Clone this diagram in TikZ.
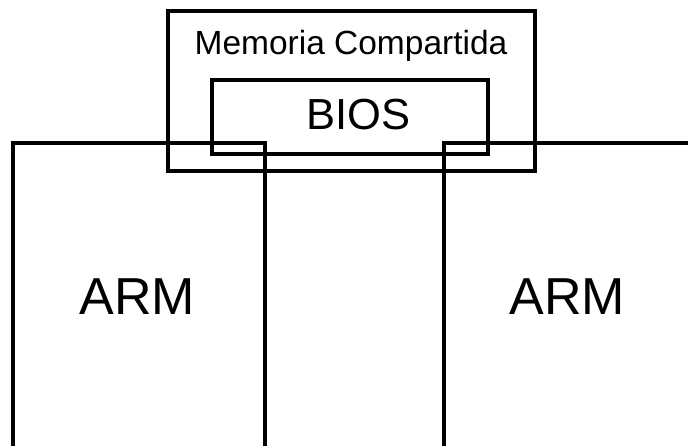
\documentclass[tikz,border=0pt]{standalone}
\usepackage{fontspec}
\setmainfont{Liberation Sans}
\begin{document}
\begin{tikzpicture}[x=1pt,y=-1pt,
  box/.style={draw=black,line width=4.3pt,rectangle,inner sep=0pt,outer sep=0pt},
  lbl/.style={inner sep=0pt,anchor=base}]
\clip (0,0) rectangle (688,446);
\node[box,minimum width=367pt,minimum height=160pt] (mem) at (351.5,91) {};
\node[box,minimum width=276pt,minimum height=74pt] (bios) at (350,117) {};
\node[box,minimum width=252pt,minimum height=317pt] (arm1) at (139,301.5) {};
\node[box,minimum width=256pt,minimum height=317pt] (arm2) at (572,301.5) {};
\node[lbl] (tmem) at (351,55) {\fontsize{33.5}{40}\selectfont Memoria Compartida};
\node[lbl] (tbios) at (358.5,130) {\fontsize{43.5}{52}\selectfont BIOS};
\node[lbl] (tarm1) at (137.5,315) {\fontsize{52}{62}\selectfont ARM};
\node[lbl] (tarm2) at (567.5,315) {\fontsize{52}{62}\selectfont ARM};
\end{tikzpicture}
\end{document}
